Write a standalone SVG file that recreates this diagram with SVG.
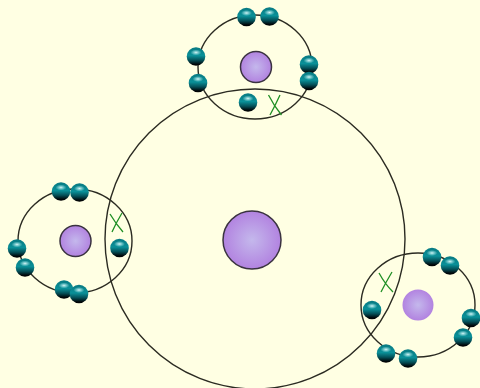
<svg xmlns="http://www.w3.org/2000/svg" xmlns:xlink="http://www.w3.org/1999/xlink" width="480" height="388" viewBox="0 0 480 388">
<style>
.orbit{fill:none;stroke:#2b2b22;stroke-width:1.4}
.nuc{fill:url(#nuc);stroke:#3a3340;stroke-width:1.5}
.nuc2{fill:url(#nuc)}
.x{fill:none;stroke:#1f8f24;stroke-width:1.3}
</style>
<defs>
<radialGradient id="nuc" cx="50%" cy="50%" r="50%"><stop offset="0" stop-color="#c4b8ec"/><stop offset="1" stop-color="#b283e0"/></radialGradient>
<linearGradient id="eb" x1="0" y1="0" x2="0" y2="1"><stop offset="0" stop-color="#087a82"/><stop offset=".45" stop-color="#0a9098"/><stop offset=".7" stop-color="#045058"/><stop offset=".92" stop-color="#000608"/><stop offset="1" stop-color="#000"/></linearGradient>
<radialGradient id="eh" cx="50%" cy="50%" r="50%"><stop offset="0" stop-color="#e8ffff" stop-opacity=".9"/><stop offset="1" stop-color="#bff" stop-opacity="0"/></radialGradient>
<g id="e"><circle r="9.3" fill="url(#eb)"/><ellipse cx="0" cy="-4" rx="5.5" ry="3" fill="url(#eh)"/></g>
</defs>
<rect width="480" height="388" fill="#ffffe3"/>
<g id="center"><circle class="orbit" cx="255" cy="239" r="150"/><circle class="nuc" cx="252" cy="240" r="29"/></g>
<g id="atom-top">
<ellipse class="orbit" cx="255" cy="67" rx="57" ry="52"/><circle class="nuc" cx="256" cy="67" r="15.5"/>
<use xlink:href="#e" x="246.5" y="17"/><use xlink:href="#e" x="269.5" y="16.5"/><use xlink:href="#e" x="196" y="56.5"/><use xlink:href="#e" x="198" y="83"/><use xlink:href="#e" x="309" y="64.5"/><use xlink:href="#e" x="309" y="81"/><use xlink:href="#e" x="248" y="102.5"/>
<path class="x" d="M268.5 95Q274 106 281.5 115M280 95Q275 106 270 115"/>
</g>
<g id="atom-left">
<ellipse class="orbit" cx="75" cy="241" rx="57" ry="52"/><circle class="nuc" cx="75.5" cy="241" r="15.5"/>
<use xlink:href="#e" x="61" y="191.5"/><use xlink:href="#e" x="79.5" y="192.5"/><use xlink:href="#e" x="17" y="248.5"/><use xlink:href="#e" x="25" y="267.5"/><use xlink:href="#e" x="64" y="289.5"/><use xlink:href="#e" x="79" y="294"/><use xlink:href="#e" x="119.5" y="248"/>
<path class="x" d="M110 214Q116 224 123 232M122 213Q116 223 112 232"/>
</g>
<g id="atom-right">
<ellipse class="orbit" cx="418" cy="305" rx="57" ry="52"/><circle class="nuc2" cx="418" cy="305" r="15.5"/>
<use xlink:href="#e" x="432" y="257"/><use xlink:href="#e" x="450" y="265.5"/><use xlink:href="#e" x="471" y="318"/><use xlink:href="#e" x="463" y="337.5"/><use xlink:href="#e" x="386" y="353.5"/><use xlink:href="#e" x="408" y="358.5"/><use xlink:href="#e" x="372" y="310"/>
<path class="x" d="M379 273Q385 284 393 292M392 272Q386 282 381 292"/>
</g>
</svg>
